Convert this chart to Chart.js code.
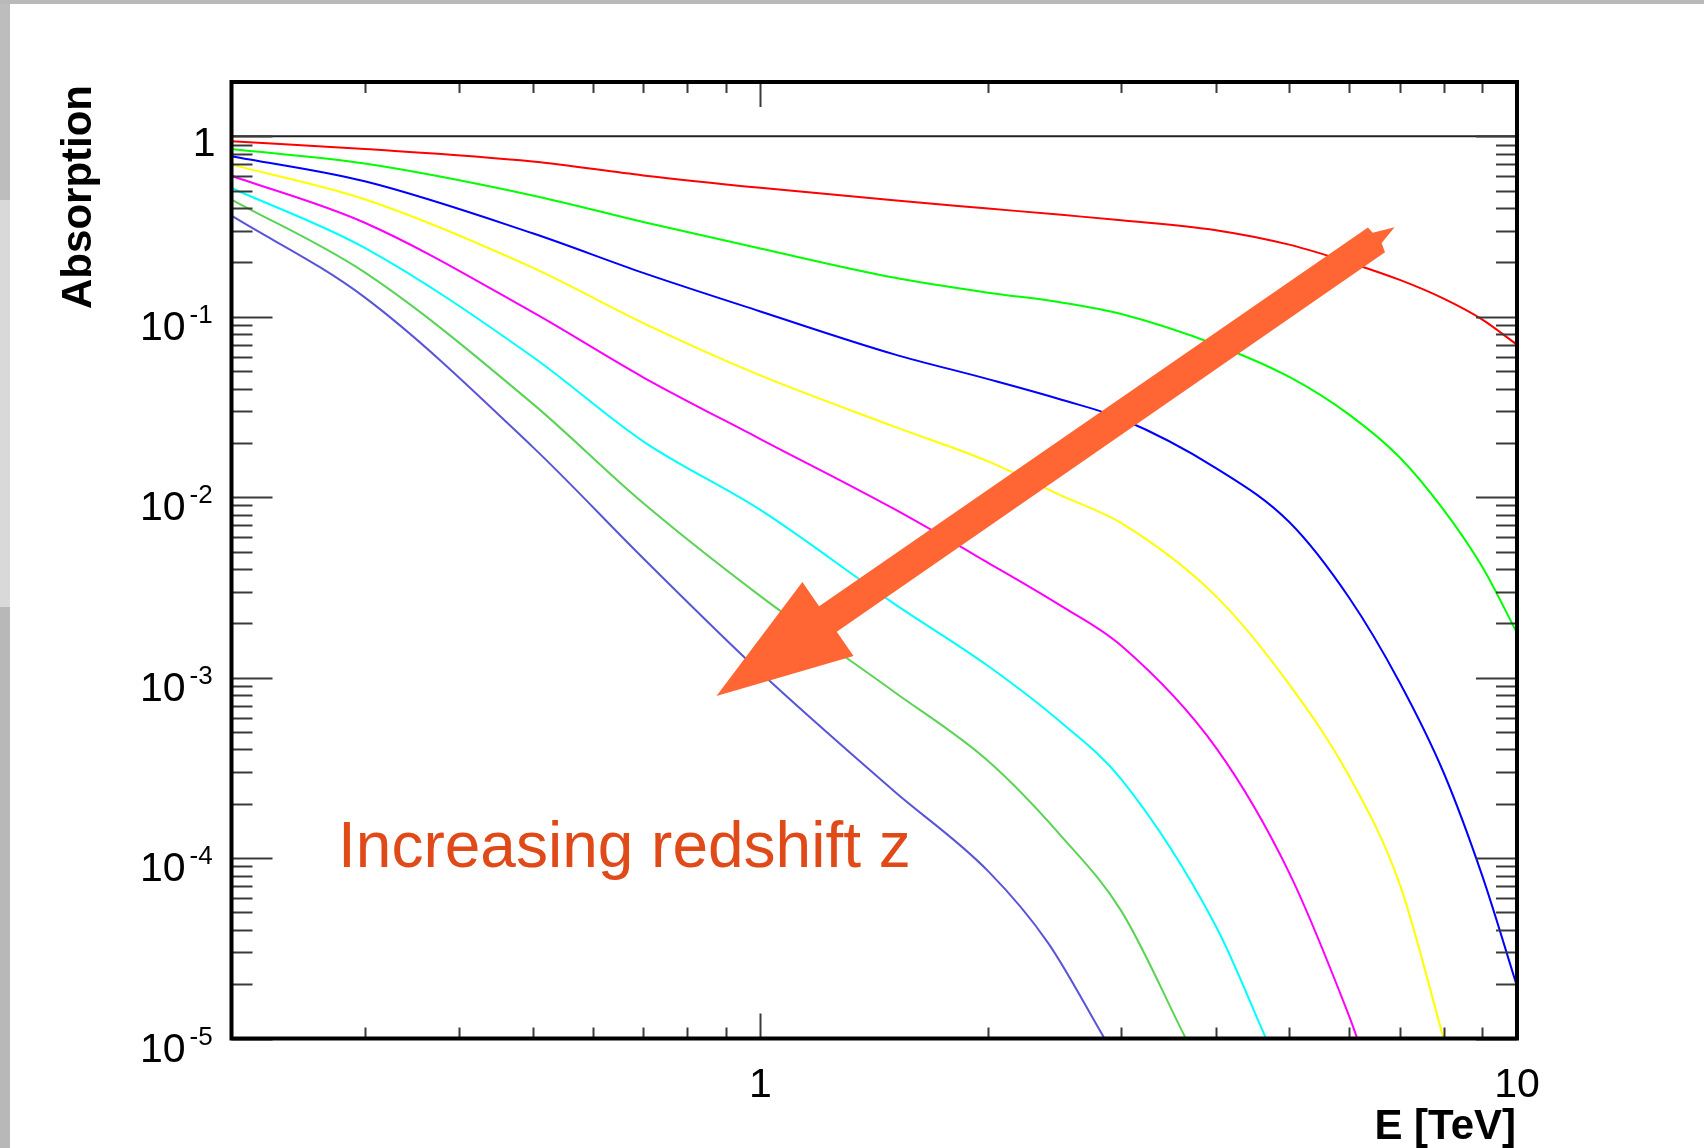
<!DOCTYPE html>
<html>
<head>
<meta charset="utf-8">
<title>Absorption vs E</title>
<script src="https://cdn.jsdelivr.net/npm/chart.js@4.4.1/dist/chart.umd.min.js"></script>
<style>
    html, body { margin: 0; padding: 0; background: #fff; }
    canvas { display: block; }
</style>
</head>
<body>
<canvas id="absChart" width="1704" height="1148"></canvas>
<script>
// Energies in TeV, absorption
const energyLong = [0.2, 0.3, 0.5, 0.7, 1, 1.5, 2, 2.5, 3, 4, 5, 6, 7, 8, 9, 10];
const absRed = [0.938, 0.85, 0.725, 0.607, 0.518, 0.442, 0.398, 0.367, 0.343, 0.302, 0.251, 0.2, 0.16, 0.126, 0.0964, 0.070];
const absGreen = [0.85, 0.706, 0.47, 0.335, 0.239, 0.165, 0.136, 0.12, 0.1035, 0.070, 0.0464, 0.0287, 0.0166, 0.0085, 0.0041, 0.00177];
const absBlue = [0.775, 0.563, 0.29, 0.175, 0.107, 0.0621, 0.0451, 0.0347, 0.0272, 0.0145, 0.00728, 0.00277, 9.37e-4, 2.97e-4, 7.94e-5, 1.95e-5];

const energyYellow = [0.2, 0.3, 0.5, 0.7, 1, 1.5, 2, 2.5, 3, 4, 5, 6, 7, 8];
const absYellow = [0.697, 0.448, 0.187, 0.0923, 0.0473, 0.0247, 0.0158, 0.0102, 0.00718, 0.00283, 9.17e-4, 2.85e-4, 7.15e-5, 1.0e-5];

const energyMagenta = [0.2, 0.3, 0.5, 0.7, 1, 1.5, 2, 2.5, 3, 4, 5, 6, 6.15];
const absMagenta = [0.605, 0.332, 0.106, 0.0462, 0.021, 0.00863, 0.00433, 0.00249, 0.0015, 4.09e-4, 8.28e-5, 1.33e-5, 1.0e-5];

const energyCyan = [0.2, 0.3, 0.5, 0.7, 1, 1.5, 2, 2.5, 3, 4, 4.66];
const absCyan = [0.517, 0.241, 0.06, 0.0204, 0.0085, 0.00258, 0.00116, 5.62e-4, 2.73e-4, 4.19e-5, 1.0e-5];

const energyGreen2 = [0.2, 0.3, 0.5, 0.7, 1, 1.5, 2, 2.5, 3, 3.65];
const absGreen2 = [0.446, 0.176, 0.033, 0.00928, 0.00283, 8.38e-4, 3.45e-4, 1.32e-4, 5.08e-5, 1.0e-5];

const energyViolet = [0.2, 0.3, 0.5, 0.7, 1, 1.5, 2, 2.4, 2.85];
const absViolet = [0.363, 0.128, 0.019, 0.00459, 0.00107, 2.36e-4, 8.46e-5, 3.39e-5, 1.0e-5];

const energyUnity = [0.2, 10];
const absUnity = [1, 1];

// axis ticks
const yMajorTicks = [1e-5, 1e-4, 1e-3, 1e-2, 1e-1, 1];
const yTickExponents = ['-5', '-4', '-3', '-2', '-1', null];
const xMajorTicks = [1, 10];
const xTickLabels = ['1', '10'];

const FONT = "'Liberation Sans', Arial, Helvetica, sans-serif";

function toPoints(energies, values) {
    return energies.map((e, i) => ({ x: e, y: values[i] }));
}

// fondo, ejes al estilo ROOT y la flecha
const rootFrame = {
    id: 'rootFrame',
    beforeDraw(chart) {
        const ctx = chart.ctx;
        ctx.save();
        ctx.fillStyle = '#fff';
        ctx.fillRect(0, 0, chart.width, chart.height);
        ctx.fillStyle = '#bdbdbd';
        ctx.fillRect(0, 0, 10, 200);
        ctx.fillStyle = '#d9d9d9';
        ctx.fillRect(0, 200, 10, 407);
        ctx.fillStyle = '#b8b8b8';
        ctx.fillRect(0, 607, 10, chart.height - 607);
        ctx.fillStyle = '#b9b9b9';
        ctx.fillRect(0, 0, chart.width, 4);
        ctx.restore();
    },
    afterDatasetsDraw(chart) {
        const { ctx, chartArea: a, scales: { x, y } } = chart;
        ctx.save();

        // ticks
        ctx.strokeStyle = '#3a3a3a';
        ctx.lineWidth = 2;
        ctx.beginPath();
        for (let k = -5; k <= 0; k++) {
            for (let m = 1; m <= 9; m++) {
                const v = m * Math.pow(10, k);
                if (v > y.max) break;
                const py = Math.round(y.getPixelForValue(v)) + 0.5;
                const len = m === 1 ? 41 : 21;
                ctx.moveTo(a.left, py); ctx.lineTo(a.left + len, py);
                ctx.moveTo(a.right, py); ctx.lineTo(a.right - len, py);
            }
        }
        for (let k = -1; k <= 1; k++) {
            for (let m = 1; m <= 9; m++) {
                const v = m * Math.pow(10, k);
                if (v <= x.min || v > x.max) continue;
                const px = Math.round(x.getPixelForValue(v)) + 0.5;
                const len = m === 1 ? 25 : 11;
                ctx.moveTo(px, a.bottom); ctx.lineTo(px, a.bottom - len);
                ctx.moveTo(px, a.top); ctx.lineTo(px, a.top + len);
            }
        }
        ctx.stroke();

        // frame
        ctx.strokeStyle = '#000';
        ctx.lineWidth = 4;
        ctx.strokeRect(a.left, a.top, a.right - a.left, a.bottom - a.top);

        // y labels
        ctx.fillStyle = '#000';
        yMajorTicks.forEach((v, i) => {
            const py = y.getPixelForValue(v);
            const exp = yTickExponents[i];
            if (exp === null) {
                ctx.font = '41px ' + FONT;
                ctx.textAlign = 'right';
                ctx.textBaseline = 'alphabetic';
                ctx.fillText('1', a.left - 16, py + 20);
            } else {
                ctx.font = '41px ' + FONT;
                ctx.textAlign = 'right';
                ctx.textBaseline = 'alphabetic';
                ctx.fillText('10', a.left - 46, py + 23);
                ctx.font = '26px ' + FONT;
                ctx.textAlign = 'left';
                ctx.fillText(exp, a.left - 42, py + 6);
            }
        });

        // x labels
        ctx.font = '41px ' + FONT;
        ctx.textAlign = 'center';
        xMajorTicks.forEach((v, i) => {
            ctx.fillText(xTickLabels[i], x.getPixelForValue(v), a.bottom + 58);
        });

        // axis titles
        ctx.font = 'bold 42px ' + FONT;
        ctx.textAlign = 'right';
        ctx.fillText('E [TeV]', a.right - 1, a.bottom + 100);
        ctx.save();
        ctx.translate(91, a.top + 3);
        ctx.rotate(-Math.PI / 2);
        ctx.textAlign = 'right';
        ctx.fillText('Absorption', 0, 0);
        ctx.restore();

        // flecha naranja
        const tip = { x: x.getPixelForValue(0.875), y: y.getPixelForValue(7.9e-4) };
        const tail = { x: x.getPixelForValue(6.52), y: y.getPixelForValue(0.267) };
        const len = Math.hypot(tail.x - tip.x, tail.y - tip.y);
        const u = { x: (tail.x - tip.x) / len, y: (tail.y - tip.y) / len };
        const w = { x: -u.y, y: u.x };
        const shape = [[0, 0], [135.5, -45], [135.5, -15.5], [len, -15], [len + 1, -8],
            [len + 22, 0], [len + 2.5, 5.5], [len, 15], [135.5, 15.5], [135.5, 45]];
        ctx.fillStyle = '#ff6633';
        ctx.beginPath();
        shape.forEach(([s, t], i) => {
            const px = tip.x + u.x * s + w.x * t;
            const py = tip.y + u.y * s + w.y * t;
            if (i === 0) ctx.moveTo(px, py); else ctx.lineTo(px, py);
        });
        ctx.closePath();
        ctx.fill();

        // texto
        ctx.font = '64px ' + FONT;
        ctx.fillStyle = '#e04a18';
        ctx.textAlign = 'left';
        ctx.fillText('Increasing redshift z', x.getPixelForValue(0.2817) - 6, y.getPixelForValue(8.87e-5));

        ctx.restore();
    }
};

function createChart() {
    const ctx = document.getElementById('absChart');

    const series = [
        { label: 'unity', e: energyUnity, a: absUnity, color: '#222222' },
        { label: 'red', e: energyLong, a: absRed, color: '#ff0000' },
        { label: 'green', e: energyLong, a: absGreen, color: '#00ff00' },
        { label: 'blue', e: energyLong, a: absBlue, color: '#0000ff' },
        { label: 'yellow', e: energyYellow, a: absYellow, color: '#ffff00' },
        { label: 'magenta', e: energyMagenta, a: absMagenta, color: '#ff00ff' },
        { label: 'cyan', e: energyCyan, a: absCyan, color: '#00ffff' },
        { label: 'green2', e: energyGreen2, a: absGreen2, color: '#59d454' },
        { label: 'violet', e: energyViolet, a: absViolet, color: '#5954d9' }
    ];

    new Chart(ctx, {
        type: 'line',
        data: {
            datasets: series.map(s => ({
                label: s.label,
                data: toPoints(s.e, s.a),
                borderColor: s.color,
                borderWidth: 2,
                pointRadius: 0,
                fill: false,
                cubicInterpolationMode: 'monotone'
            }))
        },
        options: {
            responsive: false,
            animation: false,
            devicePixelRatio: 1,
            layout: {
                padding: { left: 231.5, top: 82, right: 187, bottom: 109.5 }
            },
            plugins: {
                legend: { display: false },
                tooltip: { enabled: false }
            },
            scales: {
                x: { type: 'logarithmic', min: 0.2, max: 10, display: false },
                y: { type: 'logarithmic', min: 1e-5, max: 2, display: false }
            }
        },
        plugins: [rootFrame]
    });
}

createChart();
</script>
</body>
</html>
